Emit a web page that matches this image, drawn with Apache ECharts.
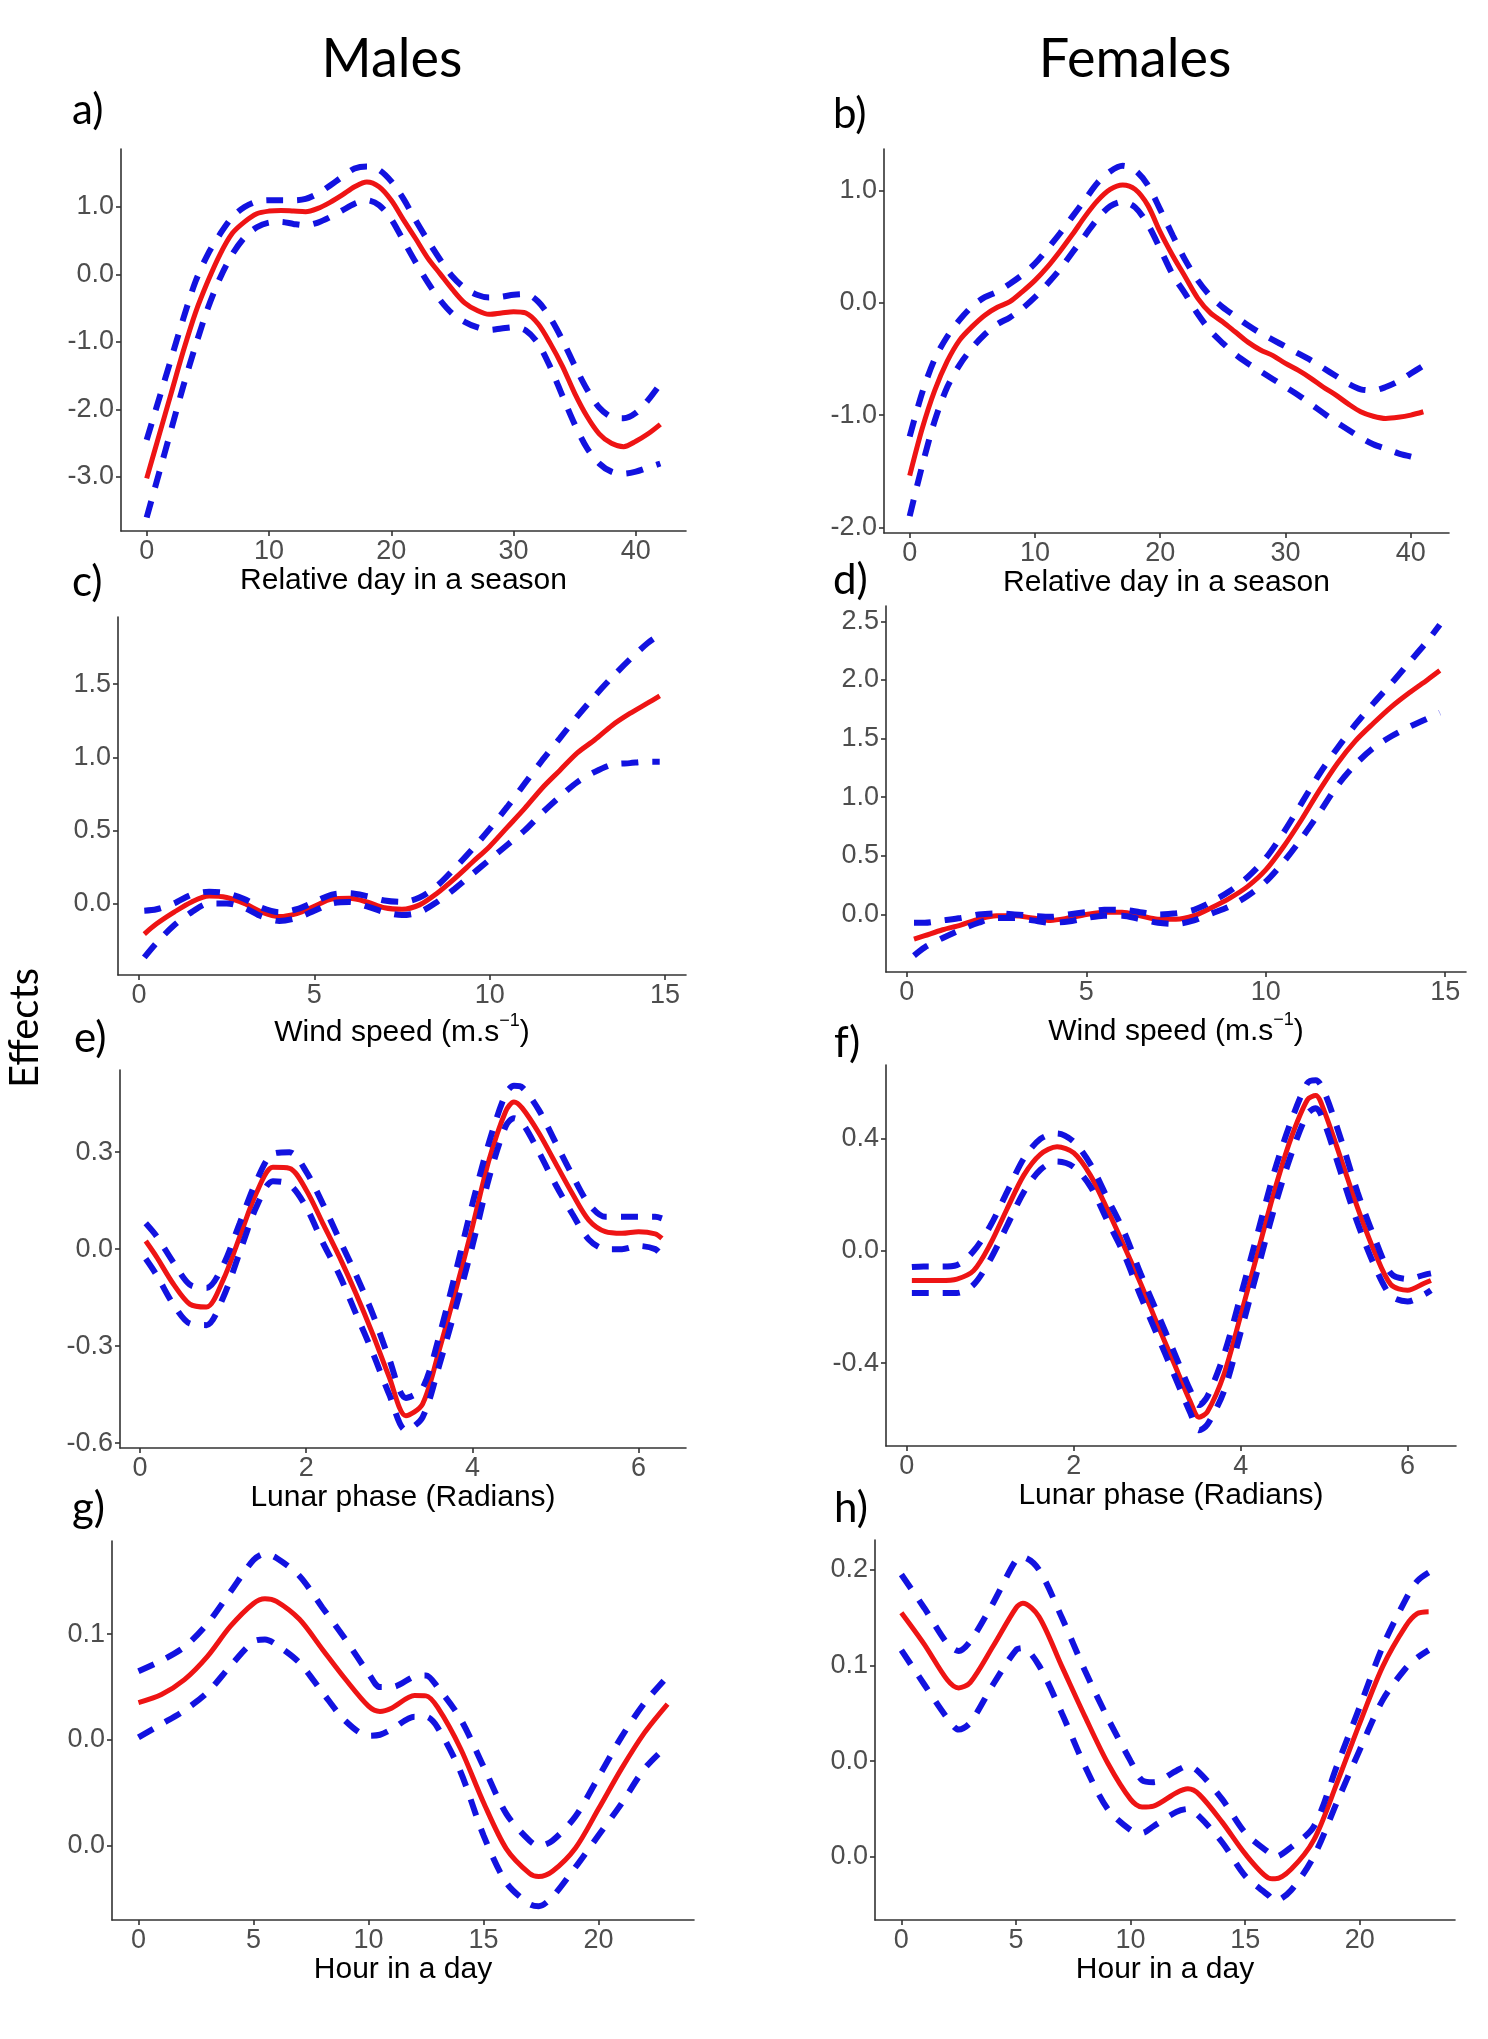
<!DOCTYPE html>
<html><head><meta charset="utf-8">
<script src="https://cdn.jsdelivr.net/npm/echarts@6/dist/echarts.min.js"></script>
<style>html,body{margin:0;padding:0;background:#fff}#c{width:1488px;height:2039px}</style>
</head><body><div id="c"></div>
<script>
// ---------- DATA ----------
// a) Males, relative day in season
const a_x = [0,1,2,3,4,5,6,7,8,9,10,11,12,13,14,15,16,17,18,19,20,21,22,23,24,25,26,27,28,29,30,31,32,33,34,35,36,37,38,39,40,41,42];
const a_fit = [-3.02,-2.39,-1.76,-1.13,-0.56,-0.1,0.3,0.61,0.78,0.9,0.94,0.95,0.94,0.93,0.98,1.07,1.18,1.3,1.37,1.3,1.1,0.81,0.53,0.24,0.01,-0.22,-0.42,-0.53,-0.59,-0.57,-0.55,-0.57,-0.73,-1.02,-1.36,-1.76,-2.1,-2.36,-2.5,-2.55,-2.47,-2.36,-2.22];
const a_upper = [-2.45,-1.85,-1.25,-0.65,-0.1,0.3,0.6,0.85,1.0,1.08,1.1,1.1,1.1,1.12,1.2,1.32,1.45,1.57,1.6,1.55,1.38,1.12,0.8,0.5,0.22,-0.03,-0.2,-0.3,-0.34,-0.33,-0.3,-0.29,-0.4,-0.64,-0.97,-1.35,-1.7,-1.97,-2.11,-2.13,-2.05,-1.86,-1.62];
const a_lower = [-3.6,-2.95,-2.3,-1.65,-1.05,-0.5,-0.05,0.3,0.55,0.7,0.77,0.78,0.75,0.73,0.77,0.85,0.95,1.05,1.1,1.03,0.82,0.5,0.18,-0.12,-0.38,-0.58,-0.7,-0.78,-0.82,-0.8,-0.78,-0.83,-1.02,-1.37,-1.8,-2.22,-2.57,-2.8,-2.92,-2.95,-2.92,-2.86,-2.8];
const a_xticks = [0,10,20,30,40];
const a_yticks = [-3,-2,-1,0,1];

// b) Females, relative day in season
const b_x = [0,1,2,3,4,5,6,7,8,9,10,11,12,13,14,15,16,17,18,19,20,21,22,23,24,25,26,27,28,29,30,31,32,33,34,35,36,37,38,39,40,41];
const b_fit = [-1.54,-1.12,-0.78,-0.52,-0.33,-0.21,-0.11,-0.04,0.01,0.1,0.2,0.32,0.46,0.61,0.77,0.91,1.01,1.05,1.01,0.87,0.63,0.42,0.23,0.04,-0.09,-0.17,-0.26,-0.35,-0.42,-0.47,-0.54,-0.6,-0.67,-0.75,-0.82,-0.9,-0.97,-1.01,-1.03,-1.02,-1.0,-0.97];
const b_upper = [-1.19,-0.8,-0.5,-0.3,-0.15,-0.03,0.05,0.1,0.17,0.25,0.35,0.48,0.62,0.77,0.92,1.07,1.17,1.22,1.18,1.05,0.83,0.6,0.38,0.2,0.06,-0.04,-0.12,-0.2,-0.27,-0.33,-0.39,-0.45,-0.51,-0.58,-0.65,-0.72,-0.77,-0.78,-0.75,-0.7,-0.63,-0.56];
const b_lower = [-1.9,-1.45,-1.05,-0.75,-0.55,-0.4,-0.28,-0.19,-0.13,-0.05,0.05,0.17,0.3,0.45,0.6,0.75,0.86,0.9,0.85,0.7,0.48,0.25,0.08,-0.1,-0.25,-0.36,-0.46,-0.54,-0.61,-0.68,-0.75,-0.82,-0.9,-0.98,-1.06,-1.13,-1.2,-1.26,-1.3,-1.34,-1.37,-1.4];
const b_xticks = [0,10,20,30,40];
const b_yticks = [-2,-1,0,1];

// c) Males, wind speed
const c_x = [0.15,0.5,1,1.5,2,2.5,3,3.5,4,4.5,5,5.5,6,6.5,7,7.5,8,8.5,9,9.5,10,10.5,11,11.5,12,12.5,13,13.5,14,14.5,14.85];
const c_fit = [-0.21,-0.14,-0.06,0.01,0.05,0.04,0.0,-0.06,-0.09,-0.07,-0.02,0.03,0.035,0.01,-0.03,-0.04,-0.01,0.07,0.17,0.28,0.39,0.52,0.65,0.79,0.91,1.03,1.12,1.22,1.3,1.37,1.42];
const c_upper = [-0.05,-0.04,0.0,0.06,0.08,0.07,0.03,-0.03,-0.06,-0.04,0.01,0.06,0.07,0.05,0.02,0.01,0.04,0.12,0.24,0.37,0.51,0.66,0.82,0.98,1.13,1.28,1.42,1.55,1.67,1.78,1.84];
const c_lower = [-0.37,-0.27,-0.15,-0.06,0.0,0.0,-0.03,-0.09,-0.12,-0.1,-0.05,0.0,0.01,-0.02,-0.06,-0.08,-0.06,0.01,0.1,0.2,0.3,0.4,0.5,0.62,0.73,0.83,0.9,0.95,0.96,0.97,0.97];
const c_xticks = [0,5,10,15];
const c_yticks = [0,0.5,1,1.5];

// d) Females, wind speed
const d_x = [0.2,0.5,1,1.5,2,2.5,3,3.5,4,4.5,5,5.5,6,6.5,7,7.5,8,8.5,9,9.5,10,10.5,11,11.5,12,12.5,13,13.5,14,14.5,14.85];
const d_fit = [-0.21,-0.18,-0.13,-0.09,-0.04,-0.01,-0.01,-0.03,-0.05,-0.03,0.0,0.02,0.02,-0.01,-0.04,-0.04,-0.01,0.06,0.14,0.24,0.38,0.58,0.81,1.06,1.29,1.48,1.63,1.77,1.89,2.0,2.08];
const d_upper = [-0.07,-0.07,-0.05,-0.03,0.0,0.01,0.0,-0.01,-0.02,0.0,0.02,0.04,0.04,0.02,0.0,0.01,0.04,0.11,0.2,0.32,0.48,0.7,0.95,1.2,1.42,1.62,1.8,1.97,2.15,2.33,2.47];
const d_lower = [-0.35,-0.28,-0.2,-0.13,-0.07,-0.03,-0.03,-0.05,-0.07,-0.06,-0.03,-0.01,-0.01,-0.04,-0.07,-0.08,-0.05,0.01,0.07,0.16,0.28,0.45,0.65,0.87,1.1,1.28,1.42,1.52,1.6,1.67,1.72];
const d_xticks = [0,5,10,15];
const d_yticks = [0,0.5,1,1.5,2,2.5];

// e) Males, lunar phase
const e_x = [0.07,0.2,0.4,0.6,0.8,1.0,1.2,1.4,1.6,1.8,2.0,2.2,2.4,2.6,2.8,3.0,3.2,3.4,3.6,3.8,4.0,4.2,4.4,4.5,4.6,4.8,5.0,5.2,5.4,5.6,5.8,6.0,6.2,6.28];
const e_fit = [0.025,-0.024,-0.107,-0.17,-0.179,-0.096,0.038,0.173,0.253,0.25,0.183,0.08,-0.024,-0.138,-0.262,-0.396,-0.515,-0.479,-0.313,-0.127,0.069,0.276,0.426,0.455,0.436,0.359,0.266,0.173,0.09,0.054,0.049,0.054,0.047,0.033];
const e_upper = [0.08,0.04,-0.04,-0.11,-0.12,-0.05,0.08,0.21,0.295,0.3,0.24,0.14,0.03,-0.08,-0.2,-0.34,-0.46,-0.43,-0.27,-0.07,0.14,0.33,0.48,0.505,0.5,0.43,0.33,0.23,0.14,0.1,0.1,0.1,0.1,0.095];
const e_lower = [-0.03,-0.08,-0.17,-0.23,-0.235,-0.15,-0.01,0.13,0.21,0.2,0.13,0.02,-0.08,-0.2,-0.32,-0.45,-0.56,-0.52,-0.36,-0.18,0.01,0.22,0.38,0.405,0.39,0.3,0.2,0.11,0.03,0.0,0.0,0.01,0.0,-0.02];
const e_xticks = [0,2,4,6];
const e_yticks = [-0.6,-0.3,0,0.3];

// f) Females, lunar phase
const f_x = [0.06,0.2,0.4,0.6,0.8,1.0,1.2,1.4,1.6,1.8,2.0,2.2,2.4,2.6,2.8,3.0,3.2,3.4,3.5,3.6,3.8,4.0,4.2,4.4,4.6,4.8,4.9,5.0,5.2,5.4,5.6,5.8,6.0,6.2,6.28];
const f_fit = [-0.105,-0.105,-0.105,-0.1,-0.07,0.025,0.15,0.27,0.345,0.372,0.35,0.27,0.15,0.02,-0.115,-0.26,-0.4,-0.54,-0.593,-0.575,-0.44,-0.23,-0.01,0.21,0.4,0.54,0.555,0.5,0.33,0.155,0.0,-0.12,-0.14,-0.115,-0.105];
const f_upper = [-0.057,-0.055,-0.055,-0.05,0.0,0.09,0.21,0.33,0.4,0.42,0.39,0.31,0.19,0.07,-0.08,-0.22,-0.36,-0.5,-0.55,-0.52,-0.37,-0.16,0.06,0.28,0.46,0.6,0.61,0.57,0.4,0.21,0.05,-0.08,-0.1,-0.085,-0.08];
const f_lower = [-0.15,-0.15,-0.15,-0.15,-0.12,-0.03,0.09,0.21,0.29,0.32,0.3,0.23,0.11,-0.01,-0.16,-0.3,-0.44,-0.58,-0.64,-0.62,-0.5,-0.29,-0.07,0.15,0.34,0.49,0.51,0.46,0.28,0.1,-0.05,-0.16,-0.18,-0.155,-0.14];
const f_xticks = [0,2,4,6];
const f_yticks = [-0.4,0,0.4];

// g) Males, hour in a day
const g_x = [0,1,2,3,4,5,5.5,6,7,8,9,10,10.5,11,12,12.5,13,14,15,16,17,17.4,18,19,20,21,22,23];
const g_fit = [0.0354,0.043,0.057,0.079,0.1075,0.129,0.1335,0.131,0.114,0.0856,0.0574,0.032,0.027,0.03,0.042,0.0417,0.031,-0.008,-0.059,-0.103,-0.126,-0.129,-0.124,-0.102,-0.065,-0.027,0.007,0.034];
const g_upper = [0.065,0.075,0.088,0.11,0.14,0.17,0.176,0.172,0.155,0.125,0.095,0.063,0.05,0.05,0.06,0.061,0.05,0.02,-0.025,-0.07,-0.095,-0.1,-0.095,-0.072,-0.035,0.003,0.035,0.06];
const g_lower = [0.0025,0.015,0.028,0.045,0.07,0.093,0.095,0.09,0.073,0.045,0.018,0.004,0.005,0.01,0.022,0.022,0.012,-0.03,-0.09,-0.135,-0.155,-0.157,-0.148,-0.12,-0.09,-0.06,-0.027,-0.005];
const g_xticks = [0,5,10,15,20];
const g_yticks = [-0.1,0,0.1];
const g_ylabels = ["0.0","0.0","0.1"];

// h) Females, hour in a day
const h_x = [0,1,2,2.5,3,4,5,5.3,6,7,8,9,10,10.5,11,12,12.5,13,14,15,16,16.3,17,18,19,20,21,22,22.5,23];
const h_fit = [0.155,0.122,0.085,0.0765,0.082,0.12,0.16,0.165,0.151,0.099,0.047,-0.002,-0.04,-0.048,-0.047,-0.033,-0.029,-0.035,-0.064,-0.097,-0.122,-0.123,-0.113,-0.082,-0.023,0.04,0.099,0.141,0.154,0.156];
const h_upper = [0.195,0.16,0.123,0.115,0.125,0.165,0.21,0.213,0.2,0.15,0.095,0.045,0.0,-0.02,-0.022,-0.01,-0.005,-0.012,-0.04,-0.075,-0.095,-0.1,-0.09,-0.068,-0.005,0.057,0.12,0.169,0.188,0.197];
const h_lower = [0.116,0.08,0.045,0.033,0.04,0.08,0.116,0.118,0.1,0.05,-0.005,-0.05,-0.072,-0.075,-0.068,-0.053,-0.05,-0.058,-0.085,-0.12,-0.14,-0.146,-0.135,-0.099,-0.043,0.012,0.064,0.097,0.108,0.116];
const h_xticks = [0,5,10,15,20];
const h_yticks = [-0.1,0,0.1,0.2];
const h_ylabels = ["0.0","0.0","0.1","0.2"];

const xTitles = ["Relative day in a season","Relative day in a season","WIND","WIND","Lunar phase (Radians)","Lunar phase (Radians)","Hour in a day","Hour in a day"];

// ---------- LAYOUT / STYLE ----------
const panels = [
  {x:a_x, fit:a_fit, up:a_upper, lo:a_lower, xt:a_xticks, yt:a_yticks, xr:[-2.1,44.1], yr:[-3.8,1.86], g:{left:121,top:149,width:565,height:382}, gap:34},
  {x:b_x, fit:b_fit, up:b_upper, lo:b_lower, xt:b_xticks, yt:b_yticks, xr:[-2.05,43.05], yr:[-2.05,1.37], g:{left:884,top:149,width:565,height:384}, gap:34},
  {x:c_x, fit:c_fit, up:c_upper, lo:c_lower, xt:c_xticks, yt:c_yticks, xr:[-0.6,15.6], yr:[-0.49,1.96], g:{left:118,top:617,width:568,height:358}, gap:37},
  {x:d_x, fit:d_fit, up:d_upper, lo:d_lower, xt:d_xticks, yt:d_yticks, xr:[-0.58,15.58], yr:[-0.49,2.63], g:{left:886,top:606,width:580,height:366}, gap:39},
  {x:e_x, fit:e_fit, up:e_upper, lo:e_lower, xt:e_xticks, yt:e_yticks, xr:[-0.24,6.57], yr:[-0.615,0.554], g:{left:120,top:1070,width:566,height:378}, gap:34},
  {x:f_x, fit:f_fit, up:f_upper, lo:f_lower, xt:f_xticks, yt:f_yticks, xr:[-0.25,6.58], yr:[-0.696,0.664], g:{left:886,top:1065,width:570,height:381}, gap:34},
  {x:g_x, fit:g_fit, up:g_upper, lo:g_lower, xt:g_xticks, yt:g_yticks, yl:g_ylabels, xr:[-1.15,24.15], yr:[-0.17,0.188], g:{left:112,top:1541,width:582,height:379}, gap:35},
  {x:h_x, fit:h_fit, up:h_upper, lo:h_lower, xt:h_xticks, yt:h_yticks, yl:h_ylabels, xr:[-1.15,24.15], yr:[-0.166,0.231], g:{left:875,top:1540,width:580,height:380}, gap:35}
];

const RED = '#ee1414', BLUE = '#1212e0';
const AXIS = '#333333', TICKLBL = '#4d4d4d';
const LBL_FONT = "'Liberation Sans', Arial, sans-serif";
const HEAD_FONT = "Lato, 'Noto Sans', sans-serif";

function zip(xs, ys){ return xs.map((x,i)=>[x, ys[i]]); }
function nearIdx(arr, v){ let k=-1; arr.forEach((t,i)=>{ if(Math.abs(t-v)<1e-6) k=i; }); return k; }

const grids=[], xAxes=[], yAxes=[], series=[];
panels.forEach((p,i)=>{
  grids.push(Object.assign({containLabel:false, outerBoundsMode:'none'}, p.g));
  const title = xTitles[i];
  const isWind = title === 'WIND';
  xAxes.push({
    type:'value', gridIndex:i, min:p.xr[0], max:p.xr[1], position:'bottom',
    axisLine:{show:true, onZero:false, lineStyle:{color:AXIS, width:1.6}},
    axisTick:{show:true, length:5, customValues:p.xt, lineStyle:{color:AXIS, width:1.6}},
    axisLabel:{show:true, customValues:p.xt, margin:7, color:TICKLBL, fontSize:27, fontFamily:LBL_FONT,
      formatter:(v)=>String(Math.round(v))},
    splitLine:{show:false},
    name: isWind ? '{m|Wind speed (m.s}{s|\u22121}{m|)}' : title,
    nameLocation:'middle', nameGap:p.gap,
    nameTextStyle: isWind ? {color:'#000', fontFamily:LBL_FONT, fontSize:30,
        rich:{m:{fontSize:30, fontFamily:LBL_FONT, color:'#000', lineHeight:36, verticalAlign:'bottom'},
              s:{fontSize:18, fontFamily:LBL_FONT, color:'#000', lineHeight:36, verticalAlign:'top'}}}
      : {color:'#000', fontFamily:LBL_FONT, fontSize:30}
  });
  yAxes.push({
    type:'value', gridIndex:i, min:p.yr[0], max:p.yr[1], position:'left',
    axisLine:{show:true, onZero:false, lineStyle:{color:AXIS, width:1.6}},
    axisTick:{show:true, length:5, customValues:p.yt, lineStyle:{color:AXIS, width:1.6}},
    axisLabel:{show:true, customValues:p.yt, margin:7, color:TICKLBL, fontSize:27, fontFamily:LBL_FONT,
      formatter:(v)=>{ if(p.yl){ const k=nearIdx(p.yt,v); return k>=0?p.yl[k]:''; } return v.toFixed(1); }},
    splitLine:{show:false}
  });
  series.push({type:'line', xAxisIndex:i, yAxisIndex:i, data:zip(p.x,p.fit), symbol:'none', smooth:0.3,
    lineStyle:{color:RED, width:5}, animation:false, silent:true});
  [p.up, p.lo].forEach(arr=>{
    series.push({type:'line', xAxisIndex:i, yAxisIndex:i, data:zip(p.x,arr), symbol:'none', smooth:0.3,
      lineStyle:{color:BLUE, width:6, type:[17,14], cap:'butt'}, animation:false, silent:true});
  });
});

const txt = (t,x,y,size,align,extra)=>Object.assign({type:'text', x:x, y:y, silent:true,
  style:{text:t, font:'normal '+size+'px '+HEAD_FONT, fill:'#000', textAlign:align, textVerticalAlign:'middle'}}, extra||{});

const graphics = [
  txt('Males',392,60,54,'center'),
  txt('Females',1135,60,54,'center'),
  txt('a)',72,110,42,'left'),
  txt('b)',833,114,42,'left'),
  txt('c)',72,582,42,'left'),
  txt('d)',833,580,42,'left'),
  txt('e)',74,1038,42,'left'),
  txt('f)',834,1043,42,'left'),
  txt('g)',72,1508,42,'left'),
  txt('h)',834,1508,42,'left'),
  txt('Effects',25,1028,40,'center',{rotation:Math.PI/2})
];

const chart = echarts.init(document.getElementById('c'), null, {renderer:'canvas', width:1488, height:2039});
chart.setOption({
  backgroundColor:'#ffffff',
  animation:false,
  grid:grids, xAxis:xAxes, yAxis:yAxes, series:series,
  graphic:{elements:graphics}
});
</script>
</body></html>
